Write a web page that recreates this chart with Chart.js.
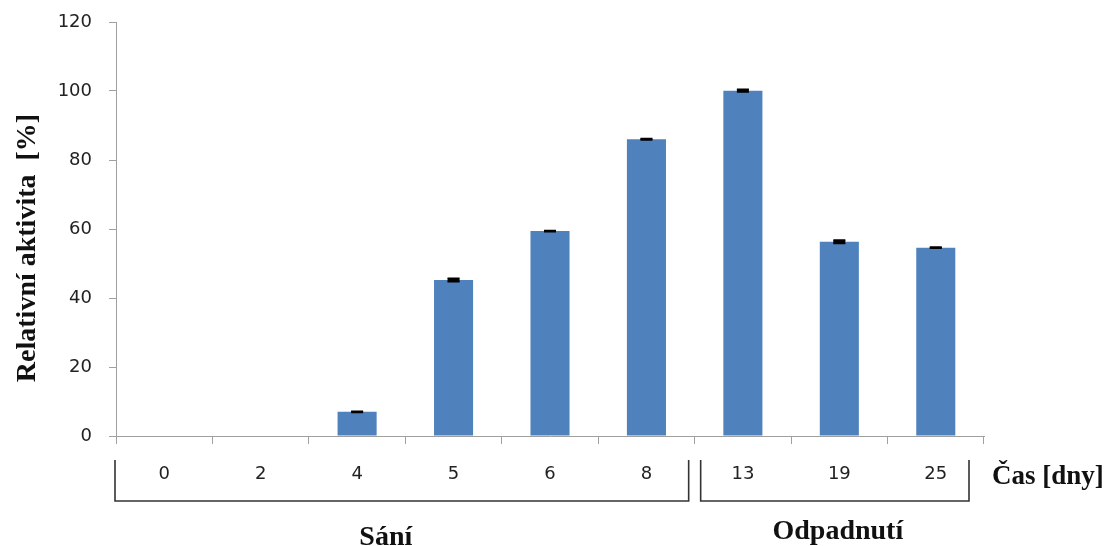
<!DOCTYPE html>
<html>
<head>
<meta charset="utf-8">
<script src="https://cdn.jsdelivr.net/npm/chart.js@4"></script>
<style>
html,body{margin:0;padding:0;background:#fff;}
#wrap{width:1108px;height:546px;position:relative;}
</style>
</head>
<body>
<div id="wrap"><canvas id="c" width="1108" height="546"></canvas></div>
<script>
// ---- data ----
const categories = ['0', '2', '4', '5', '6', '8', '13', '19', '25'];
const activity   = [0, 0, 7.0, 45.2, 59.4, 86.0, 100.1, 56.3, 54.6];
const errors     = [0, 0, 0.2, 0.5, 0.2, 0.2, 0.4, 0.5, 0.2];
const yMin = 0, yMax = 120, yStep = 20;
const groupNames = ['Sání', 'Odpadnutí'];
const groupStart = [0, 6];
const groupEnd   = [5, 8];
const yTitle = 'Relativní aktivita  [%]';
const xTitle = 'Čas [dny]';

// ---- styles ----
const serifBold = 'bold 28px "Liberation Serif", "Times New Roman", serif';
const serifBoldX = 'bold 27px "Liberation Serif", "Times New Roman", serif';
const tickFont = {family: '"DejaVu Sans", sans-serif', size: 18};
const groupInsetL = [-1, 6];
const groupInsetR = [6, 15];
const groupLabelDX = [-16, 3];
const groupLabelBaseline = [545, 539];

const errorPlugin = {
  id: 'errorBars',
  afterDatasetsDraw(chart) {
    const {ctx, scales: {y}} = chart;
    const meta = chart.getDatasetMeta(0);
    ctx.save();
    ctx.strokeStyle = '#000';
    ctx.lineWidth = 1.5;
    meta.data.forEach((bar, i) => {
      const e = errors[i];
      if (!e) return;
      const yt = y.getPixelForValue(activity[i] + e);
      const yb = y.getPixelForValue(activity[i] - e);
      const cx = bar.x, hw = 6;
      ctx.beginPath();
      ctx.moveTo(cx, yt); ctx.lineTo(cx, yb);
      ctx.moveTo(cx - hw, yt); ctx.lineTo(cx + hw, yt);
      ctx.moveTo(cx - hw, yb); ctx.lineTo(cx + hw, yb);
      ctx.stroke();
      ctx.fillStyle = '#000';
      ctx.fillRect(cx - hw, yt, hw * 2, Math.max(1, yb - yt));
    });
    ctx.restore();
  }
};

const bracketPlugin = {
  id: 'brackets',
  afterDraw(chart) {
    const {ctx, scales: {x}, chartArea} = chart;
    const step = (chartArea.right - chartArea.left) / categories.length;
    const top = chartArea.bottom + 24, bot = chartArea.bottom + 65;
    ctx.save();
    ctx.strokeStyle = '#333';
    ctx.lineWidth = 1.6;
    groupNames.forEach((name, g) => {
      const l = x.getPixelForValue(groupStart[g]) - step / 2 + groupInsetL[g];
      const r = x.getPixelForValue(groupEnd[g]) + step / 2 - groupInsetR[g];
      ctx.beginPath();
      ctx.moveTo(l, top); ctx.lineTo(l, bot); ctx.lineTo(r, bot); ctx.lineTo(r, top);
      ctx.stroke();
      ctx.fillStyle = '#111';
      ctx.font = serifBold;
      ctx.textAlign = 'center';
      ctx.textBaseline = 'alphabetic';
      ctx.fillText(name, (l + r) / 2 + groupLabelDX[g], groupLabelBaseline[g]);
    });
    // x-axis title
    ctx.fillStyle = '#111';
    ctx.font = serifBoldX;
    ctx.textAlign = 'left';
    ctx.textBaseline = 'alphabetic';
    ctx.fillText(xTitle, chartArea.right + 8, chartArea.bottom + 48);
    // y-axis title
    ctx.font = serifBold;
    ctx.translate(28, 248);
    ctx.rotate(-Math.PI / 2);
    ctx.textAlign = 'center';
    ctx.textBaseline = 'middle';
    ctx.fillText(yTitle, 0, 0);
    ctx.restore();
  }
};

new Chart(document.getElementById('c'), {
  type: 'bar',
  data: {
    labels: categories,
    datasets: [{
      data: activity,
      backgroundColor: '#4f81bd',
      borderWidth: 0,
      barPercentage: 0.405,
      categoryPercentage: 1.0
    }]
  },
  options: {
    responsive: false,
    animation: false,
    devicePixelRatio: 1,
    layout: {padding: {left: 0, right: 124, top: 22, bottom: 0}},
    plugins: {legend: {display: false}, tooltip: {enabled: false}},
    scales: {
      x: {
        offset: true,
        grid: {display: true, drawOnChartArea: false, tickLength: 8, color: '#a0a0a0', offset: true},
        border: {display: true, color: '#a0a0a0', width: 1},
        ticks: {color: '#222', font: tickFont, padding: 20, maxRotation: 0},
        afterFit(scale) { scale.height = 110; }
      },
      y: {
        min: yMin, max: yMax,
        grid: {display: true, drawOnChartArea: false, tickLength: 7, color: '#a0a0a0'},
        border: {display: true, color: '#a0a0a0', width: 1},
        ticks: {stepSize: yStep, color: '#222', font: tickFont, padding: 17},
        afterFit(scale) { scale.width = 116; scale.paddingTop = 0; scale.paddingBottom = 0; }
      }
    }
  },
  plugins: [errorPlugin, bracketPlugin]
});
</script>
</body>
</html>
